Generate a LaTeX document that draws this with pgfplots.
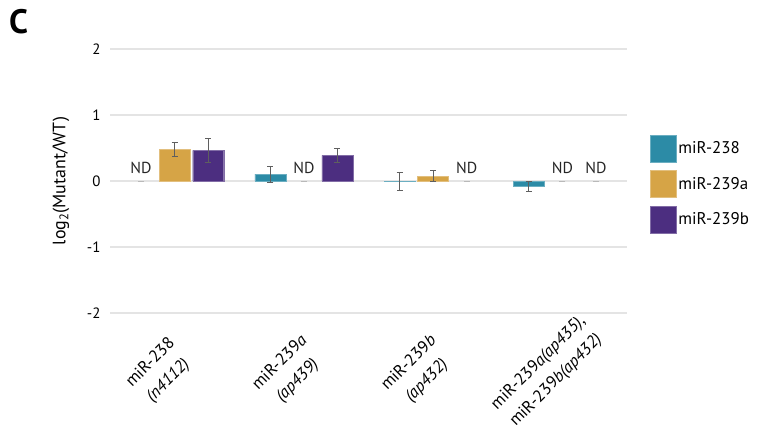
\documentclass[border=0pt]{standalone}
\usepackage{fontspec}
\setmainfont{PT Sans}
\usepackage{pgfplots}
\pgfplotsset{compat=1.18}
\definecolor{cTeal}{RGB}{44,139,166}
\definecolor{cGold}{RGB}{214,164,70}
\definecolor{cPurple}{RGB}{76,46,128}
\definecolor{gridgray}{RGB}{228,228,228}
\definecolor{errgray}{RGB}{95,95,95}
\begin{document}
\begin{tikzpicture}
\useasboundingbox (0,0) rectangle (764bp,438bp);
\node[font=\fontsize{34}{34}\selectfont\bfseries] at (18.5bp,416bp) {C};
\begin{axis}[
  at={(110bp,125bp)}, anchor=south west,
  width=517bp, height=264bp, scale only axis,
  xmin=-0.5, xmax=3.5, ymin=-2, ymax=2,
  axis line style={draw=none},
  major tick length=0pt,
  ytick={-2,-1,0,1,2}, yticklabels={-2,-1,0,1,2},
  yticklabel style={font=\fontsize{15}{18}\selectfont, xshift=-6bp},
  ymajorgrids, grid style={gridgray, line width=1.3bp},
  xtick={0,1,2,3},
  xticklabels={
    {miR-238\\\textit{(n4112)}},
    {miR-239\textit{a}\\\textit{(ap439)}},
    {miR-239\textit{b}\\\textit{(ap432)}},
    {miR-239\textit{a(ap435)},\\miR-239\textit{b(ap432)}}},
  xticklabel style={font=\fontsize{17}{25}\selectfont, align=center,
    xshift=-15bp, yshift=-59bp, rotate=45, anchor=center},
  ylabel={log\textsubscript{2}(Mutant/WT)},
  every axis y label/.style={at={(axis description cs:-0.095,0.5)}, rotate=90,
    anchor=center, font=\fontsize{18}{22}\selectfont},
  error bars/error bar style={errgray, line width=0.8bp},
  error bars/error mark options={rotate=90, errgray, mark size=3bp, line width=0.8bp},
  legend style={at={(1.044,0.675)}, anchor=north west, draw=none, fill=none,
    font=\fontsize{17}{21}\selectfont, row sep=8bp, inner sep=0pt},
  legend cell align=left,
  legend image code/.code={\fill[#1] (0bp,-13.5bp) rectangle (26bp,13.5bp);},
]
% bars sit at category + offset (-0.26, 0, +0.26) for the three miRNAs
\addplot[ybar, bar width=0.24, bar shift=0, fill=cTeal, draw=cTeal!70!white,
  error bars/.cd, y dir=both, y explicit]
  coordinates {(0.74,0.105) +- (0,0.12) (1.74,-0.01) +- (0,0.135) (2.74,-0.08) +- (0,0.07)};
\addplot[ybar, bar width=0.24, bar shift=0, fill=cGold, draw=cGold!70!white,
  error bars/.cd, y dir=both, y explicit]
  coordinates {(0,0.48) +- (0,0.1) (2,0.075) +- (0,0.085)};
\addplot[ybar, bar width=0.24, bar shift=0, fill=cPurple, draw=cPurple!70!white,
  error bars/.cd, y dir=both, y explicit]
  coordinates {(0.26,0.465) +- (0,0.18) (1.26,0.39) +- (0,0.11)};
% not detected: short gray dash at zero with an ND note
\addplot[only marks, mark=-, mark size=3bp, mark options={gray!55, line width=1bp},
  nodes near coords={ND},
  every node near coord/.append style={text=black!85, font=\fontsize{16}{18}\selectfont,
    anchor=south, yshift=4bp},
  forget plot]
  coordinates {(-0.26,0) (1,0) (2.26,0) (3,0) (3.26,0)};
\legend{miR-238, miR-239a, miR-239b}
\end{axis}
\end{tikzpicture}
\end{document}
